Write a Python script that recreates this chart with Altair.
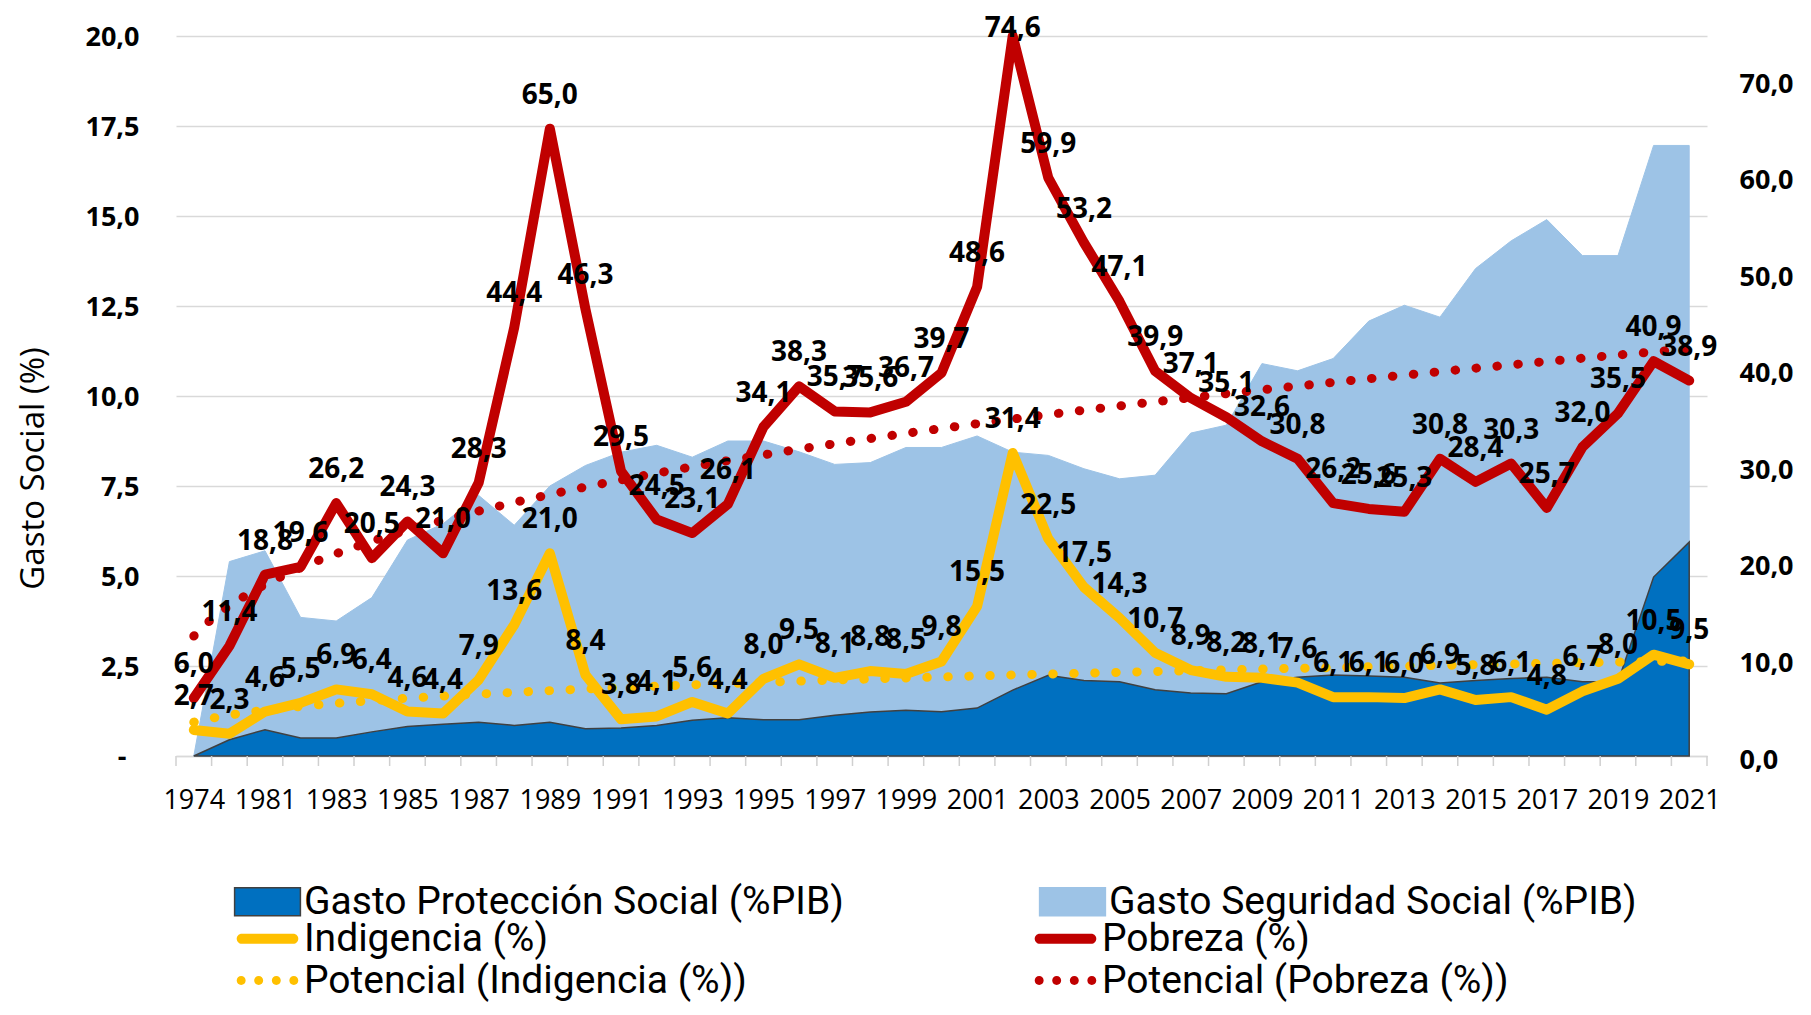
import json
import altair as alt
import pandas as pd

# ---------------- data ----------------
YEARS = ["1974", "1980", "1981", "1982", "1983", "1984", "1985", "1986", "1987", "1988",
         "1989", "1990", "1991", "1992", "1993", "1994", "1995", "1996", "1997", "1998",
         "1999", "2000", "2001", "2002", "2003", "2004", "2005", "2006", "2007", "2008",
         "2009", "2010", "2011", "2012", "2013", "2014", "2015", "2016", "2017", "2018",
         "2019", "2020", "2021"]

PROTECCION = [0.0, 0.45, 0.73, 0.5, 0.5, 0.67, 0.82, 0.88, 0.94, 0.85,
              0.94, 0.76, 0.78, 0.85, 0.99, 1.06, 1.01, 1.01, 1.13, 1.22,
              1.27, 1.23, 1.33, 1.83, 2.24, 2.1, 2.06, 1.84, 1.75, 1.73,
              2.06, 2.19, 2.25, 2.22, 2.19, 2.03, 2.1, 2.15, 2.19, 2.06,
              2.06, 4.97, 5.94]

SEGURIDAD = [0.0, 5.4, 5.7, 3.85, 3.75, 4.4, 6.0, 6.45, 7.24, 6.41,
             7.5, 8.07, 8.44, 8.63, 8.3, 8.75, 8.75, 8.45, 8.1, 8.15,
             8.57, 8.57, 8.89, 8.44, 8.35, 7.98, 7.7, 7.8, 8.97, 9.19,
             10.9, 10.7, 11.04, 12.08, 12.52, 12.19, 13.54, 14.31, 14.9, 13.9,
             13.9, 16.96, 16.96]

INDIGENCIA = [2.7, 2.3, 4.6, 5.5, 6.9, 6.4, 4.6, 4.4, 7.9, 13.6,
              21.0, 8.4, 3.8, 4.1, 5.6, 4.4, 8.0, 9.5, 8.1, 8.8,
              8.5, 9.8, 15.5, 31.4, 22.5, 17.5, 14.3, 10.7, 8.9, 8.2,
              8.1, 7.6, 6.1, 6.1, 6.0, 6.9, 5.8, 6.1, 4.8, 6.7,
              8.0, 10.5, 9.5]

POBREZA = [6.0, 11.4, 18.8, 19.6, 26.2, 20.5, 24.3, 21.0, 28.3, 44.4,
           65.0, 46.3, 29.5, 24.5, 23.1, 26.1, 34.1, 38.3, 35.7, 35.6,
           36.7, 39.7, 48.6, 74.6, 59.9, 53.2, 47.1, 39.9, 37.1, 35.1,
           32.6, 30.8, 26.2, 25.6, 25.3, 30.8, 28.4, 30.3, 25.7, 32.0,
           35.5, 40.9, 38.9]

LEFT_TICKS = [0, 2.5, 5, 7.5, 10, 12.5, 15, 17.5, 20]
RIGHT_TICKS = [0, 10, 20, 30, 40, 50, 60, 70]

AREA_NAMES = ["Gasto Protección Social (%PIB)", "Gasto Seguridad Social (%PIB)"]
LINE_NAMES = ["Indigencia (%)", "Pobreza (%)"]
TREND_NAMES = ["Potencial (Indigencia (%))", "Potencial (Pobreza (%))"]

YELLOW, RED = "#FFC000", "#C00000"
DARK_BLUE, LIGHT_BLUE = "#0070C0", "#9DC3E6"

# ---------------- tables ----------------
n = len(YEARS)
idx = list(range(1, n + 1))
df_prot = pd.DataFrame({"i": idx, "v": PROTECCION, "serie": AREA_NAMES[0]})
df_seg = pd.DataFrame({"i": idx, "v": SEGURIDAD, "serie": AREA_NAMES[1]})
df_ind = pd.DataFrame({"i": idx, "v": INDIGENCIA, "serie": LINE_NAMES[0]})
df_pob = pd.DataFrame({"i": idx, "v": POBREZA, "serie": LINE_NAMES[1]})
df_lines = pd.concat([df_ind, df_pob], ignore_index=True)
bounds = [k - 0.5 for k in idx] + [n + 0.5]
df_bounds = pd.DataFrame({"b": bounds})
df_leg = pd.DataFrame({"serie": LINE_NAMES + TREND_NAMES})

W, H = 1531, 720
LABEL_FONT = "Open Sans"
LEG_FONT = "Roboto"
LEG_SIZE = 39

x_scale = alt.Scale(domain=[0.5, n + 0.5], nice=False, zero=False)
x_label_expr = "(datum.value % 2 == 1) ? (" + json.dumps(YEARS) + ")[datum.value - 1] : ''"
x_axis = alt.Axis(values=idx, labelExpr=x_label_expr, ticks=False, grid=False,
                  domain=True, domainColor="#D9D9D9", domainWidth=1.5,
                  labelFont=LABEL_FONT, labelFontSize=27, labelColor="#000000",
                  labelPadding=31, labelOverlap=False, labelFlush=False, title=None)

left_axis = alt.Axis(values=LEFT_TICKS,
                     labelExpr="datum.value == 0 ? '-' : replace(format(datum.value, '.1f'), '.', ',')",
                     grid=True, gridColor="#D9D9D9", gridWidth=1.5,
                     domain=False, ticks=False,
                     labelFont=LABEL_FONT, labelFontWeight="bold", labelFontSize=27,
                     labelColor="#000000",
                     labelPadding={"condition": {"test": "datum.value == 0", "value": 50}, "value": 37},
                     labelOffset=1,
                     title="Gasto Social  (%)", titleFont=LABEL_FONT, titleFontSize=33,
                     titleFontWeight="normal", titleColor="#000000",
                     titleAngle=270, titleX=-143, titleY=432,
                     titleAlign="center", titleBaseline="middle")
left_scale = alt.Scale(domain=[0, 20], nice=False, zero=True)

right_axis = alt.Axis(orient="right", values=RIGHT_TICKS,
                      labelExpr="replace(format(datum.value, '.1f'), '.', ',')",
                      grid=False, domain=False, ticks=False,
                      labelFont=LABEL_FONT, labelFontWeight="bold", labelFontSize=27,
                      labelColor="#000000", labelPadding=32, labelAlign="left",
                      labelOffset=4, title=None)
right_scale = alt.Scale(domain=[0, 74.6], nice=False, zero=True)

# ---------------- legends ----------------
leg_fill = alt.Legend(
    title=None, orient="none", direction="horizontal", legendX=72, legendY=846,
    columns=2, columnPadding=192,
    symbolType="M-2.35,-1H2.35V1H-2.35Z", symbolSize=784, symbolStrokeWidth=1.5,
    labelFont=LEG_FONT, labelFontSize=LEG_SIZE, labelColor="#000000", labelOffset=17,
    labelLimit=2000, padding=0, rowPadding=2,
)

# legend glyphs: rounded bar for solid lines, four dots for the dotted trend lines
CAPSULE = "M-1.84,-0.36H1.84A0.36,0.36 0 0,1 1.84,0.36H-1.84A0.36,0.36 0 0,1 -1.84,-0.36Z"
def _dot(cx, r=0.32):
    return "M%.3f,0A%.3f,%.3f 0 1,0 %.3f,0A%.3f,%.3f 0 1,0 %.3f,0Z" % (cx - r, r, r, cx + r, r, r, cx - r)
DOTS = "".join(_dot(c) for c in (-1.88, -0.63, 0.63, 1.88))

leg_line = alt.Legend(
    title=None, orient="none", direction="horizontal", legendX=72, legendY=883,
    columns=2, columnPadding=287,
    symbolSize=784, symbolStrokeWidth=0, symbolOpacity=1,
    labelFont=LEG_FONT, labelFontSize=LEG_SIZE, labelColor="#000000", labelOffset=17,
    labelLimit=2000, padding=0, rowPadding=2,
)

fill_enc = alt.Fill("serie:N", scale=alt.Scale(domain=AREA_NAMES, range=[DARK_BLUE, LIGHT_BLUE]),
                    legend=leg_fill)
stroke_enc = alt.Stroke("serie:N", scale=alt.Scale(domain=AREA_NAMES, range=["#404040", LIGHT_BLUE]),
                        legend=leg_fill)

X = alt.X("i:Q", scale=x_scale, axis=x_axis)

# ---------------- left (areas) ----------------
area_seg = alt.Chart(df_seg).mark_area(opacity=1, strokeWidth=1).encode(
    x=X,
    y=alt.Y("v:Q", scale=left_scale, axis=left_axis, stack=None),
    fill=fill_enc,
    stroke=stroke_enc,
)
area_prot = alt.Chart(df_prot).mark_area(opacity=1, strokeWidth=1.5).encode(
    x=X,
    y=alt.Y("v:Q", scale=left_scale, axis=left_axis, stack=None),
    fill=fill_enc,
    stroke=stroke_enc,
)
xticks = alt.Chart(df_bounds).mark_rule(color="#D0D0D0", strokeWidth=1.5).encode(
    x=alt.X("b:Q", scale=x_scale, axis=x_axis),
    y=alt.value(H),
    y2=alt.value(H + 10),
)
left = alt.layer(area_seg, area_prot, xticks)

# ---------------- right (lines) ----------------
def solid(df, color):
    return alt.Chart(df).mark_line(strokeWidth=10, strokeCap="round", strokeJoin="round",
                                   color=color).encode(
        x=X,
        y=alt.Y("v:Q", scale=right_scale, axis=right_axis),
    )

def trend(df, color):
    return alt.Chart(df).transform_regression("i", "v", method="pow").mark_line(
        strokeWidth=9, strokeCap="round", strokeDash=[0.5, 20.5], color=color
    ).encode(
        x=X,
        y=alt.Y("v:Q", scale=right_scale, axis=right_axis),
    )

labels = alt.Chart(df_lines).transform_calculate(
    ly="min(datum.v, 71.9)",
    txt="replace(format(datum.v, '.1f'), '.', ',')",
).mark_text(font=LABEL_FONT, fontWeight="bold", fontSize=28, color="#000000",
            align="center", baseline="middle", dy=-33).encode(
    x=X,
    y=alt.Y("ly:Q", scale=right_scale, axis=right_axis),
    text="txt:N",
)

# legend-only layer (drawn off canvas)
legend_layer = alt.Chart(df_leg).mark_point(filled=True).encode(
    x=alt.value(-500), y=alt.value(-500),
    color=alt.Color("serie:N", scale=alt.Scale(domain=LINE_NAMES + TREND_NAMES,
                                               range=[YELLOW, RED, YELLOW, RED]),
                    legend=leg_line),
    shape=alt.Shape("serie:N", scale=alt.Scale(domain=LINE_NAMES + TREND_NAMES,
                                               range=[CAPSULE, CAPSULE, DOTS, DOTS]),
                    legend=leg_line),
)

right = alt.layer(solid(df_ind, YELLOW), solid(df_pob, RED),
                  trend(df_ind, YELLOW), trend(df_pob, RED), labels, legend_layer)

chart = alt.layer(left, right).resolve_scale(y="independent").properties(
    width=W, height=H,
    autosize=alt.AutoSizeParams(type="none"),
    padding={"left": 168, "top": 28, "right": 92, "bottom": 246},
    background="white",
).configure_view(stroke="transparent")

chart.save("out.html", embed_options={"renderer": "svg", "actions": False})
